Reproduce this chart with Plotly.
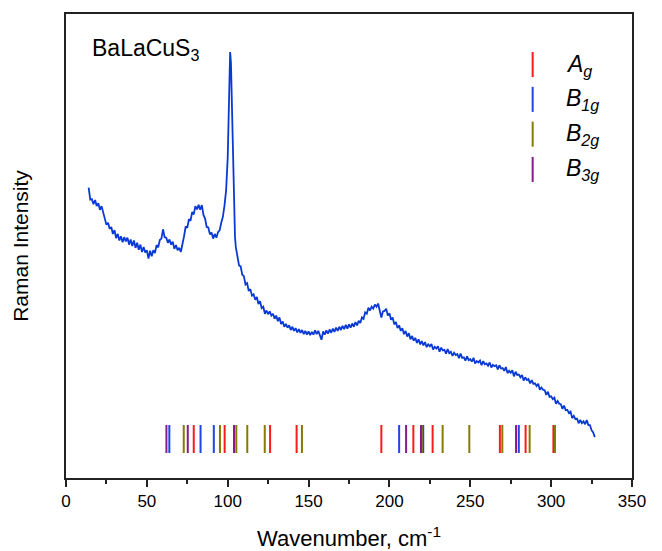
import plotly.graph_objects as go

# ---- spectrum (arbitrary intensity units) ----
wavenumber = (
    list(range(14, 101))
    + [100.5, 101, 101.5, 102, 102.5, 103, 103.5, 104, 104.5]
    + list(range(105, 328))
)
intensity = [
    # 14 - 100
    62.6, 60.0, 60.1, 59.0, 59.9, 58.6, 59.2, 57.8, 58.6, 57.0, 55.9, 54.6, 55.0, 53.7, 54.1, 52.6, 53.4, 51.7, 52.6, 51.2,
    52.1, 50.8, 51.9, 51.0, 51.8, 50.3, 51.4, 50.0, 51.2, 49.6, 50.7, 49.2, 50.3, 48.7, 49.8, 48.6, 49.1, 47.3, 49.0, 47.8,
    49.1, 48.5, 50.2, 49.7, 51.3, 51.6, 53.6, 51.9, 51.8, 50.7, 51.4, 50.3, 50.9, 49.4, 50.2, 49.1, 49.6, 48.7, 50.9, 52.1,
    54.2, 53.9, 55.8, 55.4, 57.3, 56.8, 58.6, 57.9, 58.9, 57.8, 58.8, 56.7, 55.9, 54.1, 54.0, 52.5, 52.9, 51.6, 52.6, 51.8,
    53.0, 53.4, 55.0, 56.3, 58.7, 62.0, 69.0,
    # 100.5 - 104.5
    76.0, 85.0, 91.8, 89.5, 82.0, 73.0, 64.5, 56.0, 52.0,
    # 105 - 220
    49.8, 47.9, 45.8, 45.6, 43.8, 43.5, 41.7, 42.0, 40.3, 40.7, 39.3, 39.6, 38.4, 39.0, 37.5, 38.1, 36.6, 36.9, 35.4, 36.1,
    35.3, 35.9, 35.0, 35.4, 34.3, 35.0, 33.8, 34.6, 33.2, 33.7, 32.6, 33.2, 32.4, 32.9, 31.9, 32.6, 31.7, 32.3, 31.4, 32.1,
    31.3, 31.9, 31.0, 31.7, 30.9, 31.6, 30.8, 31.5, 30.9, 31.8, 31.0, 31.7, 30.9, 29.8, 31.6, 30.9, 31.8, 31.1, 32.0, 31.3,
    32.2, 31.5, 32.4, 31.7, 32.6, 31.9, 32.8, 32.1, 33.0, 32.2, 33.1, 32.4, 33.3, 32.6, 33.6, 32.9, 33.9, 33.4, 34.6, 34.3,
    35.7, 35.4, 36.7, 36.1, 36.9, 36.5, 37.4, 36.9, 37.6, 35.9, 34.6, 35.9, 36.0, 36.5, 35.0, 35.5, 34.1, 34.6, 33.1, 33.6,
    32.3, 32.9, 31.7, 32.3, 31.0, 31.7, 30.5, 31.2, 29.9, 30.6, 29.6, 30.2, 29.1, 29.9, 28.8, 29.5,
    # 221 - 327
    28.6, 29.3, 28.2, 28.8, 28.4, 28.9, 27.7, 28.3, 27.9, 28.4, 27.2, 28.1, 27.5, 27.6, 26.8, 27.8, 26.9, 27.2, 26.3, 27.0,
    26.5, 26.7, 25.8, 26.8, 25.9, 26.0, 25.3, 26.2, 25.4, 25.6, 25.1, 25.9, 24.7, 25.2, 24.9, 25.3, 24.3, 25.2, 24.5, 24.7,
    24.2, 24.9, 23.8, 24.4, 24.1, 24.3, 23.4, 24.3, 23.6, 23.7, 23.1, 23.9, 22.6, 23.1, 22.7, 23.2, 21.9, 22.9, 22.2, 22.3,
    21.7, 22.2, 21.0, 21.7, 21.1, 21.3, 20.4, 21.1, 20.3, 20.4, 19.8, 20.3, 19.0, 19.5, 19.0, 18.9, 17.9, 18.6, 17.5, 17.6,
    17.0, 17.3, 16.0, 16.6, 16.0, 15.9, 14.9, 15.6, 14.6, 14.7, 14.0, 14.3, 12.9, 13.4, 12.7, 12.8, 11.8, 12.5, 11.8, 12.2,
    11.6, 12.5, 11.4, 11.4, 10.3, 9.8, 8.8,
]

# ---- calculated Raman-active modes (cm^-1) ----
modes_Ag = [79.0, 98.1, 126.2, 142.6, 195.0, 214.8, 226.7, 268.3, 284.2, 301.4]
modes_B1g = [63.9, 83.2, 91.4, 206.0, 220.9, 280.0]
modes_B2g = [72.8, 95.2, 105.3, 112.1, 122.9, 145.9, 220.0, 232.9, 249.4, 269.8, 286.7, 302.4]
modes_B3g = [62.1, 75.3, 103.9, 210.3, 219.5, 278.3]

mode_level = 8.4  # intensity level where the mode ticks are drawn

series = [
    ("A", "g", modes_Ag, "#ff1a1a"),
    ("B", "1g", modes_B1g, "#1f45e6"),
    ("B", "2g", modes_B2g, "#867a00"),
    ("B", "3g", modes_B3g, "#8a1a8a"),
]

FONT = "Liberation Sans, Arial, sans-serif"

fig = go.Figure()
fig.add_trace(go.Scatter(
    x=wavenumber, y=intensity, mode="lines",
    line=dict(color="#0a3ad4", width=1.8), showlegend=False, hoverinfo="skip",
))
for main, sub, modes, col in series:
    fig.add_trace(go.Scatter(
        x=modes, y=[mode_level] * len(modes), mode="markers",
        marker=dict(symbol="line-ns", size=20, line=dict(color=col, width=2)),
        showlegend=False, name=main + sub,
    ))

# manual legend (vertical line + italic label)
leg_x = 0.8245
leg_top = [0.918, 0.843, 0.768, 0.692]
leg_len = 0.054
annotations = []
shapes = []
for (main, sub, modes, col), yt in zip(series, leg_top):
    shapes.append(dict(type="line", xref="paper", yref="paper",
                       x0=leg_x, x1=leg_x, y0=yt, y1=yt - leg_len,
                       line=dict(color=col, width=2)))
    annotations.append(dict(xref="paper", yref="paper", x=0.879, y=yt - leg_len / 2 - 0.001,
                            xanchor="left", yanchor="middle", showarrow=False,
                            text="<i>" + main + "</i><sub><i>" + sub + "</i></sub>",
                            font=dict(family=FONT, size=23, color="#000")))

annotations.append(dict(xref="paper", yref="paper", x=0.0426, y=0.958,
                        xanchor="left", yanchor="top", showarrow=False,
                        text="BaLaCuS<sub>3</sub>",
                        font=dict(family=FONT, size=23, color="#000")))

# x-axis title (placed as annotation for exact vertical placement)
annotations.append(dict(xref="paper", yref="paper", x=0.5, y=-0.128,
                        xanchor="center", yanchor="middle", showarrow=False,
                        text="Wavenumber, cm<sup>-1</sup>",
                        font=dict(family=FONT, size=22, color="#000")))

fig.update_layout(
    width=662, height=551,
    margin=dict(l=66, r=30, t=14, b=73),
    paper_bgcolor="white", plot_bgcolor="white",
    font=dict(family=FONT, color="#000"),
    shapes=shapes, annotations=annotations,
    xaxis=dict(
        range=[0, 350], tick0=0, dtick=50,
        showline=True, linecolor="#222", linewidth=1.6, mirror=True,
        ticks="outside", ticklen=7, tickwidth=1.5, tickcolor="#222",
        minor=dict(dtick=25, ticks="outside", ticklen=4, tickwidth=1.5, tickcolor="#222"),
        showgrid=False, zeroline=False,
        tickfont=dict(family=FONT, size=17, color="#000"),
    ),
    yaxis=dict(
        range=[0, 100],
        showline=True, linecolor="#222", linewidth=1.6, mirror=True,
        ticks="", showticklabels=False, showgrid=False, zeroline=False,
        title=dict(text="Raman Intensity", font=dict(family=FONT, size=21, color="#000"), standoff=30),
    ),
)

fig.write_html("out.html")
